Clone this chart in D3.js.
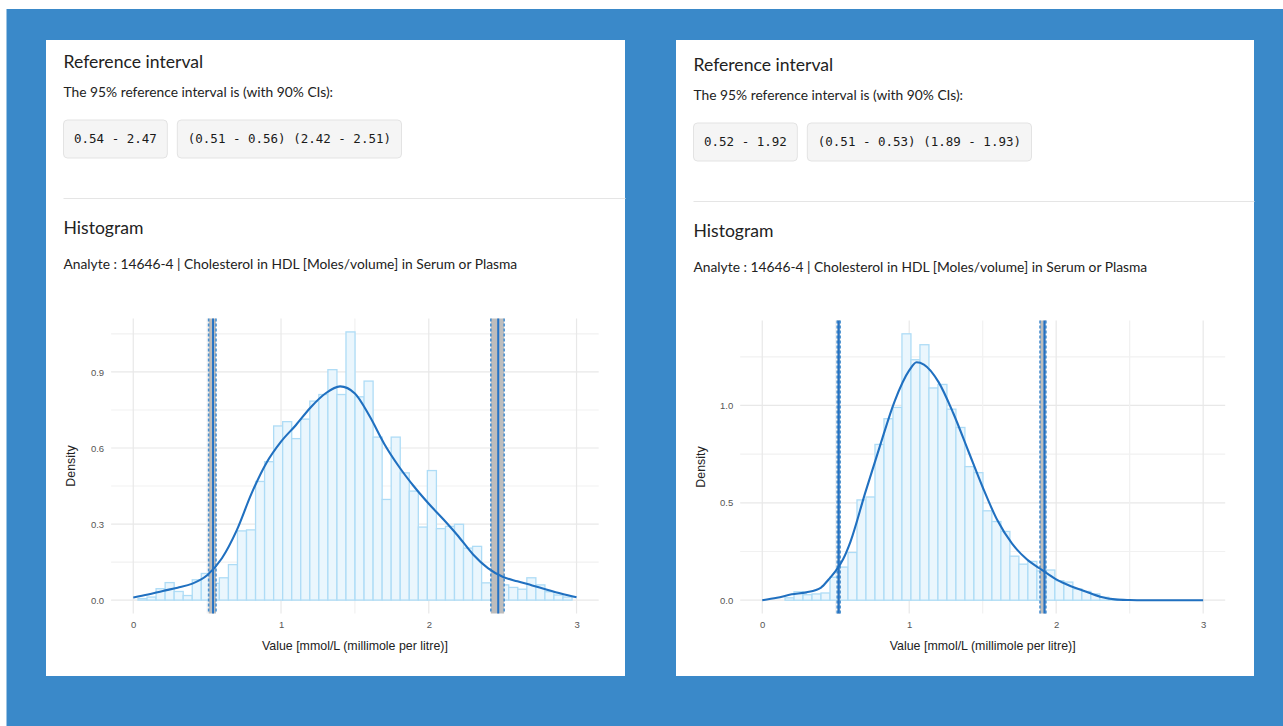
<!DOCTYPE html>
<html lang="en">
<head>
    <meta charset="UTF-8">
    <title>Reference interval - histograms</title>
    <style>
    body { margin: 0; background: #fff; }
    .title { font-family: Lato, "Open Sans", sans-serif; font-size: 17.6px; fill: #222; }
    .body-text { font-family: Lato, "Open Sans", sans-serif; font-size: 13.8px; fill: #222; }
    .code { font-family: "DejaVu Sans Mono", monospace; font-size: 12.5px; fill: #1a1a1a; }
    .tick-label { font-family: "Liberation Sans", Arial, sans-serif; font-size: 9.5px; fill: #555; }
    .axis-title { font-family: "Liberation Sans", Arial, sans-serif; font-size: 12.4px; fill: #222; }
    .bar { fill: #eaf6fd; stroke: #aedcf6; stroke-width: 1.3px; }
    .curve { fill: none; stroke: #2070c0; stroke-width: 2.1px; }
    </style>
</head>
<body>
    <svg width="1283" height="726"></svg>
    <script src="https://d3js.org/d3.v7.min.js"></script>
    <script type="text/javascript">
        // ---- data ----
        var binWidth = 0.0612;

        // left panel
        var leftInterval = [0.54, 2.47];
        var leftLowerCI = [0.51, 0.56];
        var leftUpperCI = [2.42, 2.51];
        var leftBinStart = 0.032;
        var leftDensity = [0.006, 0.012, 0.045, 0.069, 0.034, 0.018, 0.080, 0.105, 0.066, 0.088,
                           0.140, 0.273, 0.277, 0.468, 0.546, 0.687, 0.704, 0.637, 0.714, 0.785,
                           0.811, 0.909, 0.811, 1.058, 0.802, 0.864, 0.643, 0.397, 0.643, 0.502,
                           0.430, 0.288, 0.511, 0.282, 0.291, 0.299, 0.205, 0.212, 0.068, 0.065,
                           0.060, 0.050, 0.043, 0.088, 0.060, 0.033, 0.020, 0.012];
        var leftCurveX = [0, 0.1, 0.2, 0.3, 0.4, 0.5, 0.6, 0.7, 0.8, 0.9, 1.0, 1.1, 1.2, 1.3, 1.4, 1.5,
                          1.6, 1.7, 1.8, 1.9, 2.0, 2.1, 2.2, 2.3, 2.4, 2.5, 2.6, 2.7, 2.8, 2.9, 3.0];
        var leftCurveY = [0.010, 0.022, 0.036, 0.049, 0.065, 0.098, 0.165, 0.275, 0.420, 0.540, 0.625,
                          0.690, 0.760, 0.815, 0.843, 0.815, 0.725, 0.615, 0.525, 0.448, 0.380, 0.318,
                          0.252, 0.180, 0.126, 0.092, 0.074, 0.058, 0.041, 0.025, 0.011];
        var leftYTicks = [0, 0.3, 0.6, 0.9];
        var leftYMinor = [0.15, 0.45, 0.75, 1.05];

        // right panel
        var rightInterval = [0.52, 1.92];
        var rightLowerCI = [0.51, 0.53];
        var rightUpperCI = [1.89, 1.93];
        var rightBinStart = 0.155;
        var rightDensity = [0.012, 0.043, 0.028, 0.032, 0.037, 0.118, 0.170, 0.245, 0.515, 0.530,
                            0.800, 0.932, 0.990, 1.368, 1.235, 1.312, 1.090, 1.108, 0.981, 0.887,
                            0.686, 0.655, 0.459, 0.404, 0.353, 0.226, 0.185, 0.199, 0.150, 0.155,
                            0.100, 0.093, 0.058, 0.045, 0.032, 0.015, 0.005];
        var rightCurveX = [0, 0.1, 0.2, 0.3, 0.4, 0.45, 0.5, 0.55, 0.6, 0.7, 0.8, 0.9, 1.0, 1.05, 1.1,
                           1.2, 1.3, 1.4, 1.5, 1.6, 1.7, 1.8, 1.9, 2.0, 2.1, 2.2, 2.3, 2.4, 2.5, 2.6, 3.0];
        var rightCurveY = [0.0, 0.012, 0.030, 0.040, 0.065, 0.105, 0.150, 0.210, 0.300, 0.550, 0.790,
                           1.020, 1.180, 1.222, 1.210, 1.120, 0.960, 0.770, 0.580, 0.410, 0.290, 0.210,
                           0.157, 0.107, 0.072, 0.045, 0.018, 0.004, 0.001, 0.0, 0.0];
        var rightYTicks = [0, 0.5, 1.0];
        var rightYMinor = [0.25, 0.75, 1.25];

        var xTicks = [0, 1, 2, 3];
        var xMinor = [0.5, 1.5, 2.5];
        var analyte = "Analyte : 14646-4 | Cholesterol in HDL [Moles/volume] in Serum or Plasma";

        // ---- page ----
        var svg = d3.select("svg");
        svg.append("rect").attr("x", 6.5).attr("y", 9).attr("width", 1283 - 6.5).attr("height", 726 - 9)
            .attr("fill", "#3a89c9");

        function drawPanel(p) {
            var g = svg.append("g").attr("transform", "translate(" + p.left + "," + p.top + ")");
            g.append("rect").attr("width", p.width).attr("height", 636).attr("fill", "#fff");

            var t = g.append("g").attr("transform", "translate(17.5," + p.dy + ")");
            t.append("text").attr("class", "title").attr("x", 0).attr("y", 27.5).text("Reference interval");
            t.append("text").attr("class", "body-text").attr("x", 0).attr("y", 56.5)
                .text("The 95% reference interval is (with 90% CIs):");

            var f = d3.format(".2f");
            var boxes = [
                f(p.interval[0]) + " - " + f(p.interval[1]),
                "(" + f(p.lower[0]) + " - " + f(p.lower[1]) + ") (" + f(p.upper[0]) + " - " + f(p.upper[1]) + ")"
            ];
            var bx = 0;
            boxes.forEach(function(s) {
                var bg = t.append("g").attr("transform", "translate(" + bx + ",80)");
                var r = bg.append("rect").attr("height", 38).attr("rx", 4)
                    .attr("fill", "#f5f5f5").attr("stroke", "#e3e3e3");
                var tx = bg.append("text").attr("class", "code").attr("x", 10.5).attr("y", 23).text(s);
                var w = tx.node().getComputedTextLength() + 21;
                r.attr("width", w);
                bx += w + 10;
            });

            t.append("line").attr("x1", 0).attr("x2", p.width - 17).attr("y1", 158.5).attr("y2", 158.5)
                .attr("stroke", "#e5e5e5");
            t.append("text").attr("class", "title").attr("x", 0).attr("y", 194).text("Histogram");
            t.append("text").attr("class", "body-text").attr("x", 0).attr("y", 228.5).text(analyte);

            // ---- plot ----
            var x = d3.scaleLinear().domain([-0.15, 3.15]).range([p.plotL, p.plotR]);
            var maxD = d3.max(p.density);
            var y = d3.scaleLinear().domain([-0.05 * maxD, 1.05 * maxD]).range([573.5, p.plotT]);
            var plot = g.append("g");

            plot.selectAll(".hgrid").data(p.yTicks.concat(p.yMinor)).enter().append("line")
                .attr("x1", x(-0.15)).attr("x2", x(3.15))
                .attr("y1", function(d) { return y(d); }).attr("y2", function(d) { return y(d); })
                .attr("stroke", function(d) { return p.yTicks.indexOf(d) >= 0 ? "#e8e8e8" : "#f1f1f1"; })
                .attr("stroke-width", 1.2);
            plot.selectAll(".vgrid").data(xTicks.concat(xMinor)).enter().append("line")
                .attr("y1", y.range()[0]).attr("y2", y.range()[1])
                .attr("x1", function(d) { return x(d); }).attr("x2", function(d) { return x(d); })
                .attr("stroke", function(d) { return xTicks.indexOf(d) >= 0 ? "#e8e8e8" : "#f1f1f1"; })
                .attr("stroke-width", 1.2);

            plot.selectAll(".bar").data(p.density).enter().append("rect")
                .attr("class", "bar")
                .attr("x", function(d, i) { return x(p.binStart + i * binWidth); })
                .attr("width", x(binWidth) - x(0))
                .attr("y", function(d) { return y(d); })
                .attr("height", function(d) { return y(0) - y(d); });

            // reference limits with their confidence bands
            [[p.lower, p.interval[0]], [p.upper, p.interval[1]]].forEach(function(lim) {
                var ci = lim[0];
                plot.append("rect")
                    .attr("x", x(ci[0])).attr("width", x(ci[1]) - x(ci[0]))
                    .attr("y", y.range()[1]).attr("height", y.range()[0] - y.range()[1])
                    .attr("fill", "#bdbdbd");
                ci.forEach(function(v) {
                    plot.append("line").attr("x1", x(v)).attr("x2", x(v))
                        .attr("y1", y.range()[1]).attr("y2", y.range()[0])
                        .attr("stroke", "#4a90d0").attr("stroke-width", 1.6)
                        .attr("stroke-dasharray", "3,2");
                });
                plot.append("line").attr("x1", x(lim[1])).attr("x2", x(lim[1]))
                    .attr("y1", y.range()[1]).attr("y2", y.range()[0])
                    .attr("stroke", "#2472c4").attr("stroke-width", 2);
            });

            var line = d3.line()
                .curve(d3.curveMonotoneX)
                .x(function(d) { return x(d[0]); })
                .y(function(d) { return y(d[1]); });
            plot.append("path").attr("class", "curve")
                .attr("d", line(d3.zip(p.curveX, p.curveY)));

            // axes (labels only, no lines)
            var ax = plot.append("g").attr("transform", "translate(0," + (y.range()[0]) + ")")
                .call(d3.axisBottom(x).tickValues(xTicks).tickSize(0).tickPadding(8).tickFormat(d3.format("d")));
            ax.select(".domain").remove();
            ax.selectAll("text").attr("class", "tick-label").attr("fill", null);
            ax.attr("font-family", null).attr("font-size", null);

            var ay = plot.append("g").attr("transform", "translate(" + x(-0.15) + ",0)")
                .call(d3.axisLeft(y).tickValues(p.yTicks).tickSize(0).tickPadding(7).tickFormat(d3.format(".1f")));
            ay.select(".domain").remove();
            ay.selectAll("text").attr("class", "tick-label").attr("fill", null);
            ay.attr("font-family", null).attr("font-size", null);

            plot.append("text").attr("class", "axis-title")
                .attr("transform", "translate(" + (x(-0.15) - 40) + "," + ((y.range()[0] + y.range()[1]) / 2) + ") rotate(-90)")
                .attr("text-anchor", "middle").attr("dy", "0.35em").text("Density");
            plot.append("text").attr("class", "axis-title")
                .attr("x", (x(-0.15) + x(3.15)) / 2).attr("y", 609.5)
                .attr("text-anchor", "middle").text("Value [mmol/L (millimole per litre)]");
        }

        drawPanel({
            left: 46, top: 40, width: 579, dy: 0,
            plotL: 65.1, plotR: 552.7, plotT: 278.5,
            interval: leftInterval, lower: leftLowerCI, upper: leftUpperCI,
            binStart: leftBinStart, density: leftDensity,
            curveX: leftCurveX, curveY: leftCurveY,
            yTicks: leftYTicks, yMinor: leftYMinor
        });
        drawPanel({
            left: 676, top: 40, width: 578, dy: 3,
            plotL: 64.2, plotR: 549.2, plotT: 280.5,
            interval: rightInterval, lower: rightLowerCI, upper: rightUpperCI,
            binStart: rightBinStart, density: rightDensity,
            curveX: rightCurveX, curveY: rightCurveY,
            yTicks: rightYTicks, yMinor: rightYMinor
        });
    </script>
</body>
</html>
